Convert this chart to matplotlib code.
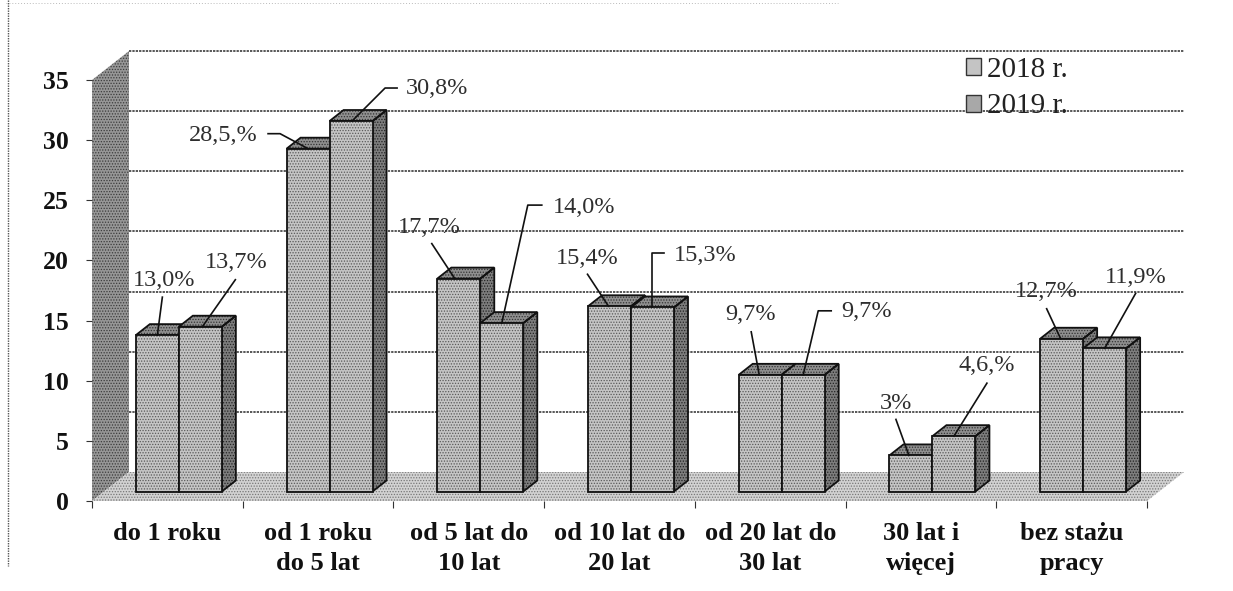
import matplotlib
matplotlib.use("Agg")
import matplotlib.pyplot as plt
from matplotlib.patches import Polygon, Patch
from matplotlib.lines import Line2D

categories = ['do 1 roku', 'od 1 roku\ndo 5 lat', 'od 5 lat do\n10 lat', 'od 10 lat do\n20 lat',
              'od 20 lat do\n30 lat', '30 lat i\nwięcej', 'bez stażu\npracy']
values_2018 = [13.0, 28.5, 17.7, 15.4, 9.7, 3.0, 12.7]
values_2019 = [13.7, 30.8, 14.0, 15.3, 9.7, 4.6, 11.9]
labels_2018 = ['13,0%', '28,5,%', '17,7%', '15,4%', '9,7%', '3%', '12,7%']
labels_2019 = ['13,7%', '30,8%', '14,0%', '15,3%', '9,7%', '4,6,%', '11,9%']
yticks = [0, 5, 10, 15, 20, 25, 30, 35]

# label offset and leader knots, pixels from the top of each bar (y up)
label_off_2018 = [(7, 55), (-85, 13), (-29, 51), (-22, 48), (-10, 60), (-15, 52), (-15, 47)]
label_off_2019 = [(36, 64), (86, 33), (82, 116), (53, 52), (63, 63), (33, 71), (31, 71)]
leader_2018 = [[(0, 0), (5, 38)], [(0, 0), (-28, 15), (-40, 15)], [(-4, 0), (-27, 35)], [(-1, 0), (-22, 32)],
               [(-1, 0), (-9, 43)], [(-2, 0), (-15, 36)], [(-1, 0), (-15, 30)]]
leader_2019 = [[(2, 0), (35, 47)], [(1, 0), (34, 33), (46, 33)], [(0, 0), (26, 118), (40, 118)], [(0, 0), (0, 54), (12, 54)],
               [(0, 0), (15, 64), (28, 64)], [(0, 0), (33, 53)], [(0, 0), (31, 55)]]

W, H = 1233, 591
SERIF = 'Liberation Serif'
plt.rcParams['hatch.linewidth'] = 0.6

fig = plt.figure(figsize=(W / 100, H / 100), dpi=100)
ax = fig.add_axes([92 / W, (H - 501) / H, (1147 - 92) / W, (501 - 80) / H])
ax.set_xlim(0, 7)
ax.set_ylim(0, 35)
for s in ax.spines.values():
    s.set_visible(False)

# pixel sizes in data units
sx = 7 / (1147 - 92)
sy = 35 / (501 - 80)


def flat(pts, face, hatch_col, z):
    ax.add_patch(Polygon(pts, closed=True, facecolor=face, edgecolor=hatch_col, hatch='......',
                         lw=0, zorder=z, clip_on=False))


def poly(pts, face, hatch_col, z):
    flat(pts, face, hatch_col, z)
    ax.add_patch(Polygon(pts, closed=True, fill=False, edgecolor='#111111', lw=1.3, zorder=z + 0.1,
                         clip_on=False))


# wall, floor, grid
bx, by = 37 * sx, 29 * sy
flat([(0, 0), (bx, by), (bx, 35 + by), (0, 35)], '#969696', '#3c3c3c', 1)
flat([(0, 0), (7, 0), (7 + bx, by), (bx, by)], '#d2d2d2', '#777777', 1)
for t in yticks[1:]:
    ax.plot([bx, 7 + bx], [t + by, t + by], color='#2a2a2a', lw=1.1, ls=(0, (1.5, 0.7)), zorder=1.5, clip_on=False)

# bars
bar_w = 43 * sx
off_x, off_y = 11.5 * sx, 9.5 * sy
dep_x, dep_y = 14 * sx, 11 * sy
tops = []
for i in range(len(categories)):
    for j, v in enumerate([values_2018[i], values_2019[i]]):
        x0 = i + 0.5 + off_x - bar_w + j * bar_w
        x1 = x0 + bar_w
        y0 = off_y
        y1 = off_y + v
        z = 3 + i + j * 0.3
        poly([(x0, y1), (x1, y1), (x1 + dep_x, y1 + dep_y), (x0 + dep_x, y1 + dep_y)], '#8f8f8f', '#333333', z)
        poly([(x1, y0), (x1 + dep_x, y0 + dep_y), (x1 + dep_x, y1 + dep_y), (x1, y1)], '#7d7d7d', '#222222', z)
        poly([(x0, y0), (x1, y0), (x1, y1), (x0, y1)], '#c4c4c4', '#5a5a5a', z + 0.2)
        tops.append(((x0 + x1) / 2, y1))

# data labels with leader lines
for i in range(len(categories)):
    for j, (labs, offs, lead) in enumerate([(labels_2018, label_off_2018, leader_2018),
                                            (labels_2019, label_off_2019, leader_2019)]):
        cx, top = tops[2 * i + j]
        ax.annotate(labs[i], xy=(cx, top), xytext=offs[i], textcoords='offset pixels', ha='center', va='center',
                    family=SERIF, fontsize=17.5, color='#2e2e2e', zorder=20, annotation_clip=False)
        ax.plot([cx + p[0] * sx for p in lead[i]], [top + p[1] * sy for p in lead[i]],
                color='#111111', lw=1.2, zorder=20, clip_on=False)

# axes
ax.set_yticks(yticks)
ax.set_yticklabels([str(t) for t in yticks], family=SERIF, fontsize=18.5, fontweight='bold', color='#111111')
ax.tick_params(axis='y', length=4, width=0.8, pad=13, color='#333333')
ax.set_xticks(range(8))
ax.set_xticklabels([])
ax.tick_params(axis='x', which='major', length=5, width=0.8, color='#333333')
ax.set_xticks([i + 0.5 for i in range(7)], minor=True)
ax.set_xticklabels(categories, minor=True, family=SERIF, fontsize=19, fontweight='bold', color='#111111',
                   linespacing=1.42)
ax.tick_params(axis='x', which='minor', length=0, pad=15)

# legend
handles = [Patch(facecolor='#c4c4c4', edgecolor='#333333', lw=1),
           Patch(facecolor='#a8a8a8', edgecolor='#333333', lw=1)]
leg = ax.legend(handles, ['2018 r.', '2019 r.'], loc='upper left', bbox_to_anchor=((966 - 92) / 1055, 1.055),
                frameon=False, prop={'family': SERIF, 'size': 21}, handlelength=0.52, handleheight=0.52,
                handletextpad=0.2, labelspacing=0.36, borderpad=0, borderaxespad=0)
leg.set_zorder(30)
for t in leg.get_texts():
    t.set_color('#222222')

# scan edges
fig.add_artist(Line2D([8 / W, 8 / W], [1, (H - 566) / H], color='#555555', lw=1, ls=(0, (1, 0.8))))
fig.add_artist(Line2D([0.005, 0.68], [1 - 3 / H, 1 - 3 / H], color='#bbbbbb', lw=0.7, ls=(0, (1, 2))))

fig.savefig("out.png", dpi=100)
